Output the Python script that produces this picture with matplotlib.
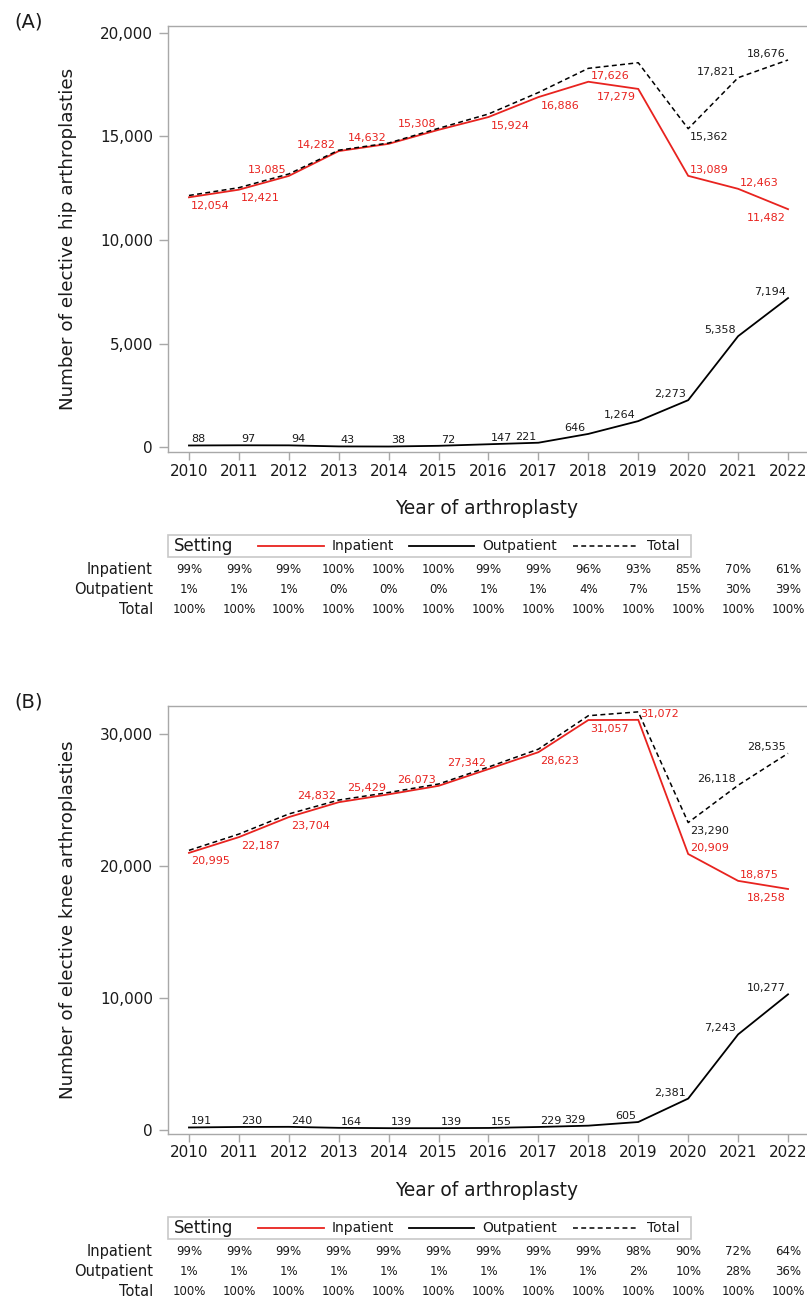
import matplotlib
matplotlib.use("Agg")
import matplotlib.pyplot as plt
from matplotlib.lines import Line2D
from matplotlib.patches import Rectangle
from matplotlib.ticker import FuncFormatter
import matplotlib.transforms as mtransforms

plt.rcParams['font.family'] = ['DejaVu Sans']

years = [2010, 2011, 2012, 2013, 2014, 2015, 2016, 2017, 2018, 2019, 2020, 2021, 2022]

# Panel A: hip
hip_inpatient = [12054, 12421, 13085, 14282, 14632, 15308, 15924, 16886, 17626, 17279, 13089, 12463, 11482]
hip_outpatient = [88, 97, 94, 43, 38, 72, 147, 221, 646, 1264, 2273, 5358, 7194]
hip_total = [12142, 12518, 13179, 14325, 14670, 15380, 16071, 17107, 18272, 18543, 15362, 17821, 18676]
hip_total_labeled = [False] * 10 + [True, True, True]
hip_pct_in = ["99%", "99%", "99%", "100%", "100%", "100%", "99%", "99%", "96%", "93%", "85%", "70%", "61%"]
hip_pct_out = ["1%", "1%", "1%", "0%", "0%", "0%", "1%", "1%", "4%", "7%", "15%", "30%", "39%"]
hip_pct_tot = ["100%"] * 13
hip_yticks = [0, 5000, 10000, 15000, 20000]

# Panel B: knee
knee_inpatient = [20995, 22187, 23704, 24832, 25429, 26073, 27342, 28623, 31057, 31072, 20909, 18875, 18258]
knee_outpatient = [191, 230, 240, 164, 139, 139, 155, 229, 329, 605, 2381, 7243, 10277]
knee_total = [21186, 22417, 23944, 24996, 25568, 26212, 27497, 28852, 31386, 31677, 23290, 26118, 28535]
knee_total_labeled = [False] * 10 + [True, True, True]
knee_pct_in = ["99%"] * 9 + ["98%", "90%", "72%", "64%"]
knee_pct_out = ["1%"] * 9 + ["2%", "10%", "28%", "36%"]
knee_pct_tot = ["100%"] * 13
knee_yticks = [0, 10000, 20000, 30000]

# label placement (r/l = right/left of point, a/b = above/below)
hip_in_pos = ["rb", "rb", "la", "la", "la", "la", "rb", "rb", "ra", "lb", "ra", "ra", "lb"]
hip_out_pos = ["ra"] * 7 + ["la"] * 6
hip_tot_pos = ["la"] * 10 + ["rb", "la", "la"]
knee_in_pos = ["rb", "rb", "rb", "la", "la", "la", "la", "rb", "rb", "ra", "ra", "ra", "lb"]
knee_out_pos = ["ra"] * 8 + ["la"] * 5
knee_tot_pos = ["la"] * 10 + ["rb", "la", "la"]

RED = "#e8231f"
GRAY = "#a8a8a8"
TXT = "#1a1a1a"

W, H = 807, 1302
fig = plt.figure(figsize=(W / 100, H / 100), dpi=100)


def fx(x):
    return x / W


def fy(y):
    return 1 - y / H


def place(ax, x, y, text, pos, color):
    dx = 1.5 if pos[0] == "r" else -1.8
    ha = "left" if pos[0] == "r" else "right"
    dy = 2.2 if pos[1] == "a" else -8.3
    ax.annotate(text, (x, y), xytext=(dx, dy), textcoords="offset points",
                ha=ha, va="baseline", fontsize=8, color=color, clip_on=False)


def panel(top_px, bottom_px, inpat, outpat, total, tot_lab, in_pos, out_pos, tot_pos,
          yticks, ylims, ylabel, letter, pin, pout, ptot):
    ax = fig.add_axes([fx(167.7), fy(bottom_px), 1 - fx(167.7), (bottom_px - top_px) / H])
    ax.plot(years, inpat, color=RED, lw=1.3, solid_joinstyle="miter")
    ax.plot(years, outpat, color="black", lw=1.3)
    ax.plot(years, total, color="black", lw=1.1, linestyle=(0, (3.2, 2.2)))
    ax.set_xlim(2010 - (189 - 167.7) / 50, 2022 + (807 - 788) / 50)
    ax.set_ylim(*ylims)
    ax.set_xticks(years)
    ax.set_yticks(yticks)
    ax.yaxis.set_major_formatter(FuncFormatter(lambda v, p: f"{int(v):,}"))
    for s in ["left", "top", "bottom"]:
        ax.spines[s].set_color(GRAY)
        ax.spines[s].set_linewidth(1.0)
    ax.spines["right"].set_visible(False)
    ax.tick_params(axis="x", length=5.5, width=1, color=GRAY, labelsize=11, labelcolor=TXT, pad=3)
    ax.tick_params(axis="y", length=6.5, width=1, color=GRAY, labelsize=11, labelcolor=TXT, pad=4)
    for i, yr in enumerate(years):
        place(ax, yr, inpat[i], f"{inpat[i]:,}", in_pos[i], RED)
        place(ax, yr, outpat[i], f"{outpat[i]:,}", out_pos[i], TXT)
        if tot_lab[i]:
            place(ax, yr, total[i], f"{total[i]:,}", tot_pos[i], TXT)

    # axis titles
    fig.text(fx(68), fy((top_px + bottom_px) / 2), ylabel, rotation=90, ha="center", va="center",
             fontsize=13.2, color=TXT)
    fig.text(fx(487), fy(bottom_px + 56.5), "Year of arthroplasty", ha="center", va="center",
             fontsize=13.4, color=TXT)
    fig.text(fx(29), fy(top_px - 4), letter, ha="center", va="center", fontsize=14, color=TXT)

    # legend box
    lt = bottom_px + 83.5
    lb = bottom_px + 105.5
    fig.add_artist(Rectangle((fx(167.7), fy(lb)), fx(691) - fx(167.7), (lb - lt) / H,
                             transform=fig.transFigure, fill=False, edgecolor="#c8c8c8", lw=1.2))
    lc = (lt + lb) / 2
    fig.text(fx(174), fy(lc), "Setting", ha="left", va="center", fontsize=12, color=TXT)
    fig.add_artist(Line2D([fx(258), fx(324)], [fy(lc), fy(lc)], transform=fig.transFigure, color=RED, lw=1.3))
    fig.text(fx(332), fy(lc), "Inpatient", ha="left", va="center", fontsize=10, color=TXT)
    fig.add_artist(Line2D([fx(409), fx(474)], [fy(lc), fy(lc)], transform=fig.transFigure, color="black", lw=1.3))
    fig.text(fx(482), fy(lc), "Outpatient", ha="left", va="center", fontsize=10, color=TXT)
    fig.add_artist(Line2D([fx(573), fx(638)], [fy(lc), fy(lc)], transform=fig.transFigure, color="black",
                          lw=1.1, linestyle=(0, (3.2, 2.2))))
    fig.text(fx(647), fy(lc), "Total", ha="left", va="center", fontsize=10, color=TXT)

    # table rows
    trans = mtransforms.blended_transform_factory(ax.transData, fig.transFigure)
    rows = [("Inpatient", pin), ("Outpatient", pout), ("Total", ptot)]
    for r, (name, vals) in enumerate(rows):
        yy = bottom_px + 118 + r * 20.1
        fig.text(fx(153), fy(yy), name, ha="right", va="center", fontsize=10.5, color=TXT)
        for i, yr in enumerate(years):
            ax.text(yr, fy(yy), vals[i], transform=trans, ha="center", va="center",
                    fontsize=8.5, color=TXT, clip_on=False)
    return ax


panel(25.7, 451.7, hip_inpatient, hip_outpatient, hip_total, hip_total_labeled,
      hip_in_pos, hip_out_pos, hip_tot_pos, hip_yticks, (-212, 20328),
      "Number of elective hip arthroplasties", "(A)", hip_pct_in, hip_pct_out, hip_pct_tot)
panel(705.7, 1133.5, knee_inpatient, knee_outpatient, knee_total, knee_total_labeled,
      knee_in_pos, knee_out_pos, knee_tot_pos, knee_yticks, (-265, 32144),
      "Number of elective knee arthroplasties", "(B)", knee_pct_in, knee_pct_out, knee_pct_tot)

fig.savefig("out.png", dpi=100)
